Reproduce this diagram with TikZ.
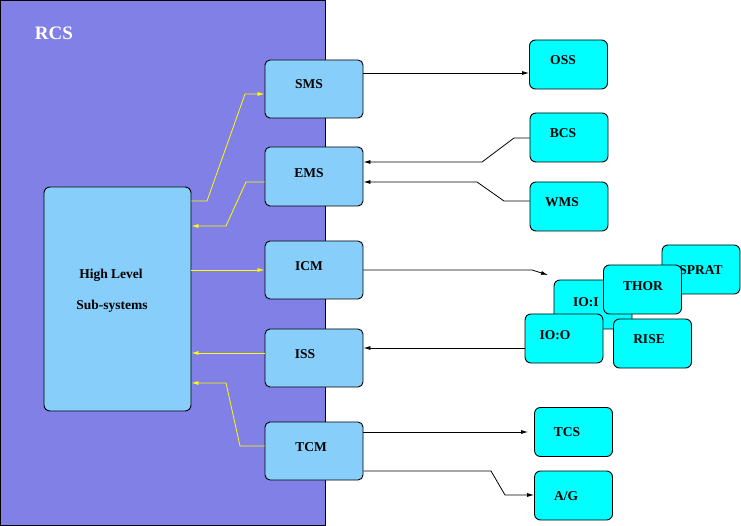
\documentclass[tikz,border=0pt]{standalone}
\usepackage{fontspec}
\setmainfont{Liberation Serif}
\usetikzlibrary{arrows.meta}
\definecolor{rcsblue}{RGB}{128,128,230}
\definecolor{midblue}{RGB}{135,206,250}
\definecolor{aqua}{RGB}{0,255,255}
\definecolor{ylw}{RGB}{255,255,0}
\tikzset{
  midbox/.style={draw=black, line width=0.9pt, fill=midblue, rounded corners=5pt, minimum width=98pt, minimum height=58pt, inner sep=0pt},
  outbox/.style={draw=black, line width=0.9pt, fill=aqua, rounded corners=6pt, minimum width=78pt, minimum height=49pt, inner sep=0pt},
  lbl/.style={font=\fontsize{13.5pt}{15pt}\selectfont\bfseries, inner sep=0pt, anchor=center},
  arr/.style={draw=black, line width=0.8pt, -{Latex[length=7pt,width=4pt]}},
  yarr/.style={draw=ylw, line width=0.8pt, -{Latex[length=7pt,width=4pt]}}
}
\begin{document}
\begin{tikzpicture}[x=1pt,y=-1pt]
\useasboundingbox (0,0) rectangle (741,526);
\fill[white] (0,0) rectangle (741,526);
% RCS area
\draw[fill=rcsblue, line width=1pt] (0.5,0.5) rectangle (325,525.5);
\node[font=\fontsize{19pt}{21pt}\selectfont\bfseries, text=white, inner sep=0pt] (rcs) at (54,33.5) {RCS};
% High level box
\node[draw=black, line width=0.9pt, fill=midblue, rounded corners=6pt, minimum width=147pt, minimum height=224pt, inner sep=0pt] (hl) at (117.5,299) {};
\node[lbl, anchor=base] (hl1) at (111,279) {High Level};
\node[lbl, anchor=base] (hl2) at (112,310) {Sub-systems};
% middle boxes
\node[midbox] (sms) at (314,89) {};
\node[lbl] (smsL) at (309,84) {SMS};
\node[midbox, minimum height=59pt] (ems) at (314,176.5) {};
\node[lbl] (emsL) at (309,173) {EMS};
\node[midbox] (icm) at (314,270) {};
\node[lbl] (icmL) at (309,266) {ICM};
\node[midbox] (iss) at (314,358) {};
\node[lbl] (issL) at (305,354) {ISS};
\node[midbox] (tcm) at (314,451) {};
\node[lbl] (tcmL) at (311,447) {TCM};
% right boxes
\node[outbox] (oss) at (568.5,64.5) {};
\node[lbl] (ossL) at (563,60) {OSS};
\node[outbox] (bcs) at (569,137.5) {};
\node[lbl] (bcsL) at (563,133) {BCS};
\node[outbox] (wms) at (569,206.5) {};
\node[lbl] (wmsL) at (562,202) {WMS};
\node[outbox] (sprat) at (701,269.5) {};
\node[lbl] (spratL) at (701,270) {SPRAT};
\node[outbox] (ioi) at (593,304.5) {};
\node[lbl, anchor=west] (ioiL) at (573,302) {IO:I};
\node[outbox] (thor) at (642.5,289.5) {};
\node[lbl] (thorL) at (643,286) {THOR};
\node[outbox] (ioo) at (564,338.5) {};
\node[lbl] (iooL) at (555,335) {IO:O};
\node[outbox] (rise) at (652.5,343.5) {};
\node[lbl] (riseL) at (649,339) {RISE};
\node[outbox] (tcs) at (573.5,432) {};
\node[lbl] (tcsL) at (567,432) {TCS};
\node[outbox] (ag) at (573.5,495.5) {};
\node[lbl] (agL) at (566,496) {A/G};
\coordinate (icmend) at (548,275);
% black connectors
\draw[arr] (sms.east |- 0,73) -- (oss.west |- 0,73);
\draw[arr] (bcs.west |- 0,138) -- (514,138) -- (482,162) -- (ems.east |- 0,162);
\draw[arr] (wms.west |- 0,201) -- (504,201) -- (477,182) -- (ems.east |- 0,182);
\draw[arr] (icm.east |- 0,270) -- (532,270) -- (icmend);
\draw[arr] (ioo.west |- 0,348) -- (iss.east |- 0,348);
\draw[arr, shorten >=6pt] (tcm.east |- 0,432) -- (tcs.west |- 0,432);
\draw[arr] (tcm.east |- 0,471) -- (491,471) -- (505,495) -- (ag.west |- 0,495);
% yellow connectors
\draw[yarr] (hl.east |- 0,201) -- (207,201) -- (245,94) -- (sms.west |- 0,94);
\draw[yarr] (ems.west |- 0,182) -- (246,182) -- (226,226) -- (hl.east |- 0,226);
\draw[yarr] (hl.east |- 0,270) -- (icm.west |- 0,270);
\draw[yarr] (iss.west |- 0,353) -- (hl.east |- 0,353);
\draw[yarr] (tcm.west |- 0,446) -- (240,446) -- (226,383) -- (hl.east |- 0,383);
\end{tikzpicture}
\end{document}
